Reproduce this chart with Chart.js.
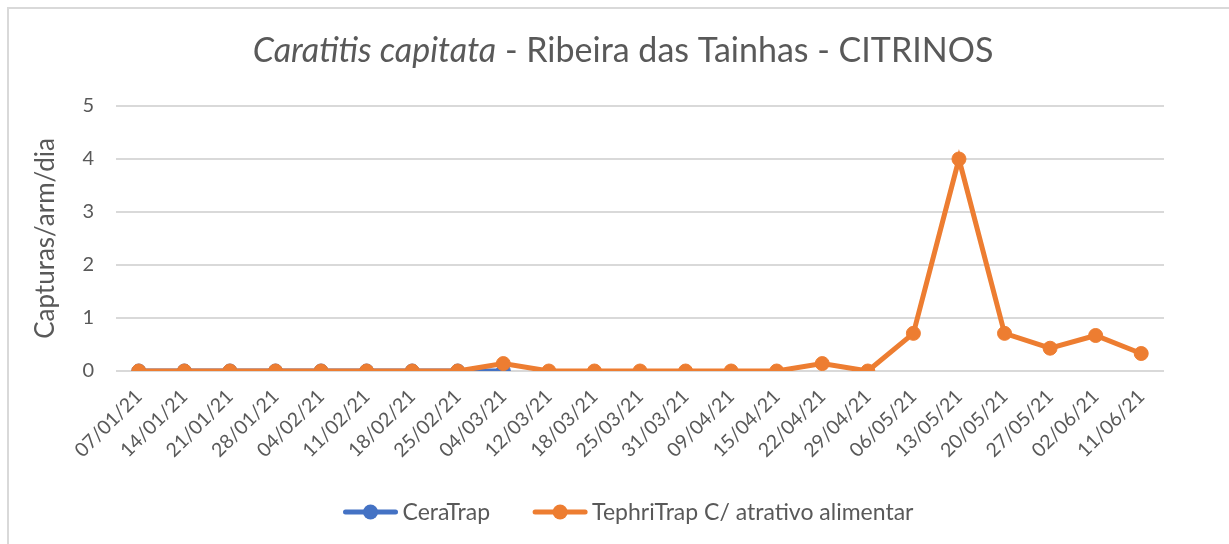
<!DOCTYPE html>
<html lang="pt">
<head>
    <meta charset="UTF-8">
    <title>Caratitis capitata - Ribeira das Tainhas - CITRINOS</title>
    <script src="https://cdn.jsdelivr.net/npm/chart.js"></script>
    <style>
        html, body {
            margin: 0;
            padding: 0;
            background: #fff;
            overflow: hidden;
        }
        .frame {
            position: absolute;
            left: 7px;
            top: 7px;
            width: 1240px;
            height: 560px;
            border: 2px solid #d9d9d9;
        }
        .wrap {
            position: absolute;
            left: 0;
            top: 0;
            width: 1229px;
            height: 544px;
        }
    </style>
</head>
<body>
    <div class="frame"></div>
    <div class="wrap"><canvas id="myChart" width="1229" height="544"></canvas></div>

    <script>
        // datas de recolha
        const datas = ['07/01/21', '14/01/21', '21/01/21', '28/01/21', '04/02/21', '11/02/21', '18/02/21', '25/02/21',
            '04/03/21', '12/03/21', '18/03/21', '25/03/21', '31/03/21', '09/04/21', '15/04/21', '22/04/21',
            '29/04/21', '06/05/21', '13/05/21', '20/05/21', '27/05/21', '02/06/21', '11/06/21'];

        // capturas/armadilha/dia
        const ceraTrap = [0, 0, 0, 0, 0, 0, 0, 0, 0, null, null, null, null, null, null, null, null, null, null, null, null, null, null];
        const tephriTrap = [0, 0, 0, 0, 0, 0, 0, 0, 0.14, 0, 0, 0, 0, 0, 0, 0.14, 0, 0.71, 4, 0.71, 0.43, 0.67, 0.33];

        const yTicks = [0, 1, 2, 3, 4, 5];

        const azul = '#4472C4';
        const laranja = '#ED7D31';
        const fonte = 'Lato, "Open Sans", sans-serif';
        const cinza = '#595959';

        // titulo com parte em italico
        const tituloPlugin = {
            id: 'titulo',
            afterDraw(chart) {
                const ctx = chart.ctx;
                const a = 'Caratitis capitata';
                const b = ' - Ribeira das Tainhas - CITRINOS';
                ctx.save();
                ctx.fillStyle = cinza;
                ctx.textBaseline = 'middle';
                ctx.font = 'italic 34px ' + fonte;
                const wa = ctx.measureText(a).width;
                ctx.font = '34px ' + fonte;
                const wb = ctx.measureText(b).width;
                let x = 623 - (wa + wb) / 2;
                ctx.font = 'italic 34px ' + fonte;
                ctx.fillText(a, x, 51);
                ctx.font = '34px ' + fonte;
                ctx.fillText(b, x + wa, 51);
                ctx.restore();
            }
        };

        // legenda: linha com bolinha + texto, como no Excel
        const legendaPlugin = {
            id: 'legenda',
            afterDraw(chart) {
                const ctx = chart.ctx;
                const y = 512;
                const mw = 56, gapTxt = 4, gapItem = 42;
                ctx.save();
                ctx.font = '23px ' + fonte;
                ctx.textBaseline = 'middle';
                const itens = chart.data.datasets.map(ds => ({ txt: ds.label, cor: ds.borderColor, w: ctx.measureText(ds.label).width }));
                let total = 0;
                itens.forEach((it, i) => { total += mw + gapTxt + it.w + (i ? gapItem : 0); });
                let x = 628 - total / 2;
                itens.forEach(it => {
                    ctx.strokeStyle = it.cor;
                    ctx.fillStyle = it.cor;
                    ctx.lineWidth = 5;
                    ctx.lineCap = 'round';
                    ctx.beginPath();
                    ctx.moveTo(x + 3, y);
                    ctx.lineTo(x + mw - 3, y);
                    ctx.stroke();
                    ctx.beginPath();
                    ctx.arc(x + mw / 2, y, 7.5, 0, Math.PI * 2);
                    ctx.fill();
                    ctx.fillStyle = cinza;
                    ctx.fillText(it.txt, x + mw + gapTxt, y + 1);
                    x += mw + gapTxt + it.w + gapItem;
                });
                ctx.restore();
            }
        };

        const ctx = document.getElementById('myChart').getContext('2d');
        const myChart = new Chart(ctx, {
            type: 'line',
            data: {
                labels: datas,
                datasets: [{
                    label: 'CeraTrap',
                    data: ceraTrap,
                    borderColor: azul,
                    backgroundColor: azul,
                    borderWidth: 5,
                    pointRadius: 7,
                    pointHoverRadius: 7,
                    pointBorderWidth: 1,
                    pointBorderColor: azul,
                    spanGaps: false,
                    tension: 0,
                    order: 2
                }, {
                    label: 'TephriTrap C/ atrativo alimentar',
                    data: tephriTrap,
                    borderColor: laranja,
                    backgroundColor: laranja,
                    borderWidth: 5,
                    pointRadius: 7,
                    pointHoverRadius: 7,
                    pointBorderWidth: 1,
                    pointBorderColor: laranja,
                    tension: 0,
                    order: 1
                }]
            },
            options: {
                responsive: false,
                animation: false,
                layout: {
                    padding: { left: 10, right: 65, top: 106, bottom: 56 }
                },
                plugins: {
                    title: { display: false },
                    tooltip: { enabled: false },
                    legend: { display: false }
                },
                scales: {
                    x: {
                        offset: true,
                        grid: { display: false },
                        border: { display: false },
                        ticks: {
                            color: cinza,
                            font: { family: fonte, size: 19.5 },
                            minRotation: 45,
                            maxRotation: 45,
                            autoSkip: false,
                            padding: 6
                        },
                        afterFit(scale) { scale.height = 117; }
                    },
                    y: {
                        min: 0,
                        max: 5,
                        afterBuildTicks(scale) { scale.ticks = yTicks.map(v => ({ value: v })); },
                        grid: { color: '#d9d9d9', lineWidth: 2, drawTicks: false },
                        border: { display: false },
                        ticks: {
                            color: cinza,
                            font: { family: fonte, size: 20 },
                            padding: 22
                        },
                        title: {
                            display: true,
                            text: 'Capturas/arm/dia',
                            color: cinza,
                            font: { family: fonte, size: 26 },
                            padding: { top: 20, bottom: 2 }
                        },
                        afterFit(scale) { scale.width = 106; }
                    }
                }
            },
            plugins: [tituloPlugin, legendaPlugin]
        });
    </script>
</body>
</html>
